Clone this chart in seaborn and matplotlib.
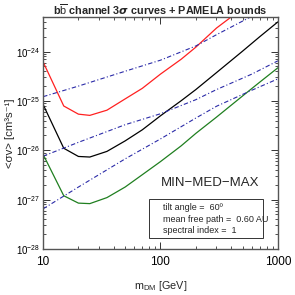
import numpy as np
import pandas as pd
import matplotlib
matplotlib.use("Agg")
import matplotlib.pyplot as plt
import matplotlib.patches as mpatches
import matplotlib.ticker as mticker
import seaborn as sns

# 3-sigma curves (MAX, MED, MIN)
mass = [10, 15, 20, 25, 35, 50, 70, 100, 150, 200, 300, 500, 700, 1000]
sv_max = [6.2e-25, 7.9e-26, 5.4e-26, 5.1e-26, 6.5e-26, 1.1e-25, 1.8e-25, 3.5e-25,
          7.0e-25, 1.23e-24, 3.0e-24, 7.5e-24, 1.4e-23, 2.8e-23]
sv_med = [8.5e-26, 1.1e-26, 7.5e-27, 7.3e-27, 9.5e-27, 1.55e-26, 2.6e-26, 5.0e-26,
          1.01e-25, 1.7e-25, 3.75e-25, 1.02e-24, 2.0e-24, 4.0e-24]
sv_min = [8.3e-27, 1.2e-27, 8.5e-28, 8.3e-28, 1.1e-27, 1.8e-27, 3.2e-27, 5.9e-27,
          1.23e-26, 2.2e-26, 4.7e-26, 1.26e-25, 2.4e-25, 4.7e-25]

# PAMELA bounds
mass_pamela = [10, 20, 50, 100, 200, 300, 600, 1000]
pam_max = [1.22e-25, 2.0e-25, 4.0e-25, 6.7e-25, 1.3e-24, 2.2e-24, 5.2e-24, 1.0e-23]
pam_med = [7.6e-27, 1.45e-26, 3.3e-26, 5.5e-26, 1.06e-25, 1.7e-25, 3.5e-25, 6.5e-25]
pam_min = [6.5e-28, 1.8e-27, 6.7e-27, 1.7e-26, 4.5e-26, 7.8e-26, 1.65e-25, 2.8e-25]

xticks = [10, 100, 1000]
xticklabels = ["10", "100", "1000"]
yticks = [1e-28, 1e-27, 1e-26, 1e-25, 1e-24]
title = r"b$\overline{\rm b}$ channel 3$\boldsymbol{\sigma}$ curves + PAMELA bounds"
xlabel = r"m$_{\rm DM}$ [GeV]"
ylabel = "<\u03c3v> [cm\u00b3s\u207b\u00b9]"
model_text = "MIN\u2212MED\u2212MAX"
info_lines = ["tilt angle =  60\u00ba", "mean free path =  0.60 AU", "spectral index =  1"]

sns.set_style("ticks")
plt.rcParams['font.family'] = ['Liberation Sans', 'DejaVu Sans']
plt.rcParams['mathtext.fontset'] = 'custom'
plt.rcParams['mathtext.rm'] = 'Liberation Sans'
plt.rcParams['mathtext.it'] = 'Liberation Sans:italic'
plt.rcParams['mathtext.bf'] = 'Liberation Sans:bold'

fig = plt.figure(figsize=(2.95, 2.95), dpi=100)
ax = fig.add_axes([0.146, 0.156, 0.796, 0.786])

curves = [(sv_max, "#ff2020"), (sv_med, "#000000"), (sv_min, "#1f7f1f")]
for vals, col in curves:
    df = pd.DataFrame({"mass": mass, "sv": vals})
    sns.lineplot(data=df, x="mass", y="sv", color=col, lw=0.9, ax=ax, legend=False)

for vals in [pam_max, pam_med, pam_min]:
    df = pd.DataFrame({"mass": mass_pamela, "sv": vals})
    sns.lineplot(data=df, x="mass", y="sv", color="#2b2ba8", lw=0.8,
                 linestyle=(0, (4, 2, 1, 2)), ax=ax, legend=False)

ax.set_xscale("log")
ax.set_yscale("log")
ax.set_xlim(10, 1000)
ax.set_ylim(1e-28, 5e-24)
ax.set_xticks(xticks)
ax.set_xticklabels(xticklabels)
ax.xaxis.set_minor_formatter(mticker.NullFormatter())
ax.yaxis.set_minor_formatter(mticker.NullFormatter())
ax.yaxis.set_major_locator(mticker.FixedLocator(yticks))
ax.yaxis.set_major_formatter(mticker.FuncFormatter(
    lambda v, p: r"$10^{%d}$" % int(round(np.log10(v)))))
ax.tick_params(which="both", direction="in", top=True, right=True,
               colors="#333333", labelcolor="black")
ax.tick_params(axis="y", labelsize=7, pad=2)
ax.tick_params(axis="x", labelsize=8.5, pad=5)
ax.tick_params(which="major", length=5, width=0.7)
ax.tick_params(which="minor", length=2.5, width=0.6)
for sp in ax.spines.values():
    sp.set_color("#555555")
    sp.set_linewidth(1.0)

ax.set_title(title, fontsize=7.8, fontweight="bold", pad=1.5)
ax.set_xlabel(xlabel, fontsize=7.8)
ax.xaxis.set_label_coords(0.5, -0.13)
ax.set_ylabel(ylabel, fontsize=8.2)
ax.yaxis.set_label_coords(-0.118, 0.5)

ax.text(0.71, 0.284, model_text, transform=ax.transAxes, ha="center", va="center", fontsize=9.5)
ax.add_patch(mpatches.Rectangle((0.451, 0.047), 0.485, 0.169, transform=ax.transAxes,
                                fill=False, edgecolor="#333333", lw=0.7))
for i, line in enumerate(info_lines):
    ax.text(0.51, 0.177 - i * 0.049, line, transform=ax.transAxes, ha="left",
            va="center", fontsize=6.5)

fig.savefig("out.png", dpi=100)
